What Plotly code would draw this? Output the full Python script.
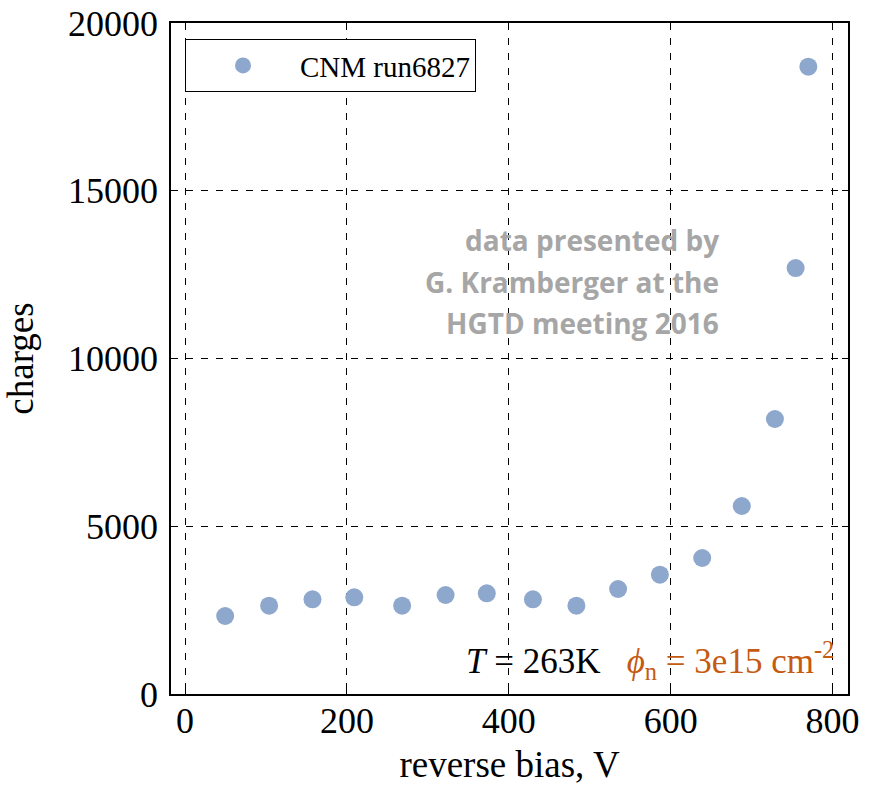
import plotly.graph_objects as go

# Collected charge vs. reverse bias (CNM run 6827)
bias_v = [49.6, 103.9, 157.5, 209.1, 268.2, 321.9, 372.8, 429.8,
          483.5, 535.0, 586.6, 638.9, 687.8, 728.7, 754.3, 770.0]
charges = [2325, 2632, 2823, 2882, 2632, 2951, 3001, 2823,
           2632, 3130, 3556, 4054, 5604, 8197, 12697, 18697]

series_name = "CNM run6827"
x_ticks = [0, 200, 400, 600, 800]
y_ticks = [0, 5000, 10000, 15000, 20000]
note_lines = ["data presented by", "G. Kramberger at the", "HGTD meeting 2016"]

SERIF = "Liberation Serif, Times New Roman, serif"
MARKER = "#8EA7CD"

fig = go.Figure()
fig.add_trace(go.Scatter(
    x=bias_v, y=charges, mode="markers", name=series_name,
    marker=dict(size=18, color=MARKER, line=dict(width=0)),
))

axis_common = dict(
    showline=True, linecolor="black", linewidth=1.5, mirror="ticks",
    ticks="inside", ticklen=6, tickcolor="black", tickwidth=1,
    showgrid=True, gridcolor="black", gridwidth=1, griddash="7px,8px",
    zeroline=False, tickformat="d",
    tickfont=dict(family=SERIF, size=36, color="black"),
)

fig.update_xaxes(
    range=[-17.3, 819], tickvals=x_ticks,
    title=dict(text="reverse bias, V", font=dict(family=SERIF, size=37, color="black"), standoff=14),
    ticklabelstandoff=-6,
    **axis_common,
)
fig.update_yaxes(
    range=[0, 20000], tickvals=y_ticks,
    title=dict(text="charges", font=dict(family=SERIF, size=37, color="black"), standoff=28),
    ticklabelstandoff=4,
    **axis_common,
)

# Attribution note, one line per annotation for wider line spacing
note_y = [13540, 12280, 11060]
for line, yv in zip(note_lines, note_y):
    fig.add_annotation(
        x=661.5, y=yv, xref="x", yref="y", xanchor="right", yanchor="middle",
        showarrow=False, text=line,
        font=dict(family="Open Sans, sans-serif", size=28, weight=700, color="#A6A6A6"),
    )

fig.add_annotation(
    x=803.7, y=1013, xref="x", yref="y", xanchor="right", yanchor="middle",
    showarrow=False,
    text=("<i>T</i> = 263K   <span style='color:#C55A11'><i>ϕ</i><sub>n</sub>"
          " = 3e15 cm<sup>-2</sup></span>"),
    font=dict(family=SERIF, size=35, color="black"),
)

fig.update_layout(
    width=873, height=785,
    margin=dict(l=171, r=25, t=23, b=91, autoexpand=False),
    paper_bgcolor="white", plot_bgcolor="white",
    showlegend=True,
    legend=dict(
        x=0.0207, y=0.976, xanchor="left", yanchor="top",
        bordercolor="black", borderwidth=1, bgcolor="white",
        font=dict(family=SERIF, size=29, color="black"),
        itemwidth=104,
    ),
)

fig.write_html("out.html")
